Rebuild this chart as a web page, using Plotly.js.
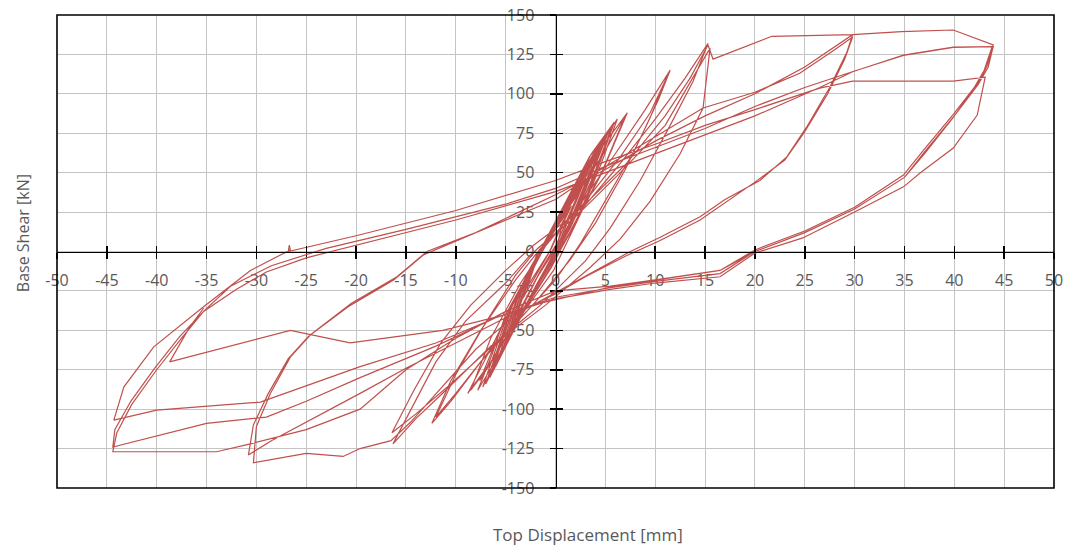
<!DOCTYPE html>
<html>
<head>
<meta charset="utf-8">
<script src="https://cdn.plot.ly/plotly-3.0.1.min.js"></script>
<style>
  html, body { margin: 0; padding: 0; background: #ffffff; }
  #chart { width: 1069px; height: 552px; }
</style>
</head>
<body>
<div id="chart"></div>
<script>
// Cyclic test record: top displacement [mm] vs. base shear [kN]

// small pre-yield cycles
const elasticDisp  = [0, 0.8, -0.6, -2.8, -1.7, 1.4, -0.4, -3.3, -1.8, 1.6, -0.5, -3.4, -1.9, 2.3, 0.2, -1.5, -3.9, -2.2, 0.0, 2.9, 0.5, -1.8, -4.4, -2.5, -0.3, 3.0, 0.4, -2.0, -4.5, -2.6, 0.2, 3.6, 1.0, -2.0, -4.9, -2.8, 0.3, 4.2, 1.4, -2.2, -5.4, -3.2, 0.4, 4.3, 1.2, -2.4, -5.5, -3.4, 0.6, 4.8, 1.6, -2.6, -6.0, -3.8, 0.6, 5.3, 1.8, -2.8, -6.6, -4.0, 0.8, 5.2, 1.7, -3.0, -6.5, -4.1];
const elasticShear = [0, 20, 0, -22, -2, 28, 2, -30, -3, 29, 1, -31, -2, 37, 6, -12, -41, -8, 14, 45, 8, -16, -49, -14, 12, 46, 6, -18, -50, -13, 18, 53, 12, -22, -57, -18, 20, 61, 18, -25, -65, -22, 22, 62, 14, -28, -66, -25, 24, 69, 18, -30, -73, -30, 25, 76, 20, -33, -80, -32, 28, 74, 18, -34, -78, -30];

// 5-6 mm cycles
const cyc6Disp  = [0.9, 3.4, 5.6, 3.8, 2.0, -0.6, -3.2, -5.3, -7.0, -5.6, -4.4, -1.8, 1.0, 3.6, 5.9, 4.2, 2.4, -0.4, -3.4, -5.6, -7.3, -6.0, -4.6, -2.0, 0.8, 3.8, 6.2, 4.6, 2.6, -0.2, -3.6, -5.9, -7.8, -6.4, -5.0, -2.2, 0.6, 3.2, 5.5, 3.9, 2.2, -0.5, -3.0, -5.0, -6.8, -5.4, -4.2];
const cyc6Shear = [30, 60, 78, 48, 22, -8, -36, -62, -84, -58, -34, -4, 30, 62, 82, 52, 24, -10, -40, -66, -86, -62, -36, -6, 28, 62, 84, 56, 25, -12, -42, -68, -88, -66, -40, -8, 26, 56, 77, 47, 20, -10, -36, -60, -80, -56, -32];

// 7.5 mm cycles
const cyc8Disp  = [0.5, 3.5, 5.8, 4.0, 1.5, -2.5, -5.5, -7.6, -5.2, -2.5, 1.0, 4.5, 7.2, 5.0, 2.0, -2.8, -6.5, -8.8, -6.0, -3.0, 1.0, 4.8, 7.0, 4.5, 1.5, -3.0, -6.6, -8.5];
const cyc8Shear = [25, 58, 80, 50, 15, -30, -60, -82, -45, -10, 28, 65, 88, 55, 18, -32, -70, -90, -55, -18, 25, 62, 86, 48, 12, -34, -72, -88];

// 12 mm cycles
const cyc12Disp  = [-6.5, -3.5, -1.2, 2.5, 6.0, 9.0, 11.5, 10.3, 8.0, 5.0, 2.5, 0.0, -3.5, -7.5, -10.5, -12.4, -10.5, -7.5, -4.0, -1.5, 2.5, 6.5, 9.5, 11.2, 9.5, 7.0, 4.0, 1.5, -2.0, -6.5, -10.0, -12.0];
const cyc12Shear = [-55, -20, 2, 30, 62, 90, 115, 96, 65, 32, 5, -18, -42, -70, -95, -109, -82, -50, -18, 2, 28, 60, 88, 111, 85, 52, 18, -5, -32, -62, -90, -105];

// 15 mm cycles
const cyc15Disp  = [-10.0, -7.0, -4.0, -1.8, 2.0, 6.0, 10.0, 13.0, 15.3, 13.8, 11.5, 8.5, 5.5, 3.0, -1.5, -6.5, -11.0, -14.0, -16.3,
                    -14.5, -12.0, -9.0, -5.0, -2.5, 2.0, 6.5, 11.0, 15.5, 14.8, 12.5, 9.5, 6.5, 3.5, -1.0, -6.0, -10.5, -14.0, -16.4];
const cyc15Shear = [-78, -45, -15, 2, 22, 52, 84, 110, 132, 108, 80, 45, 15, -6, -34, -60, -88, -106, -122,
                    -100, -70, -44, -20, -2, 22, 50, 80, 129, 91, 62, 32, 8, -10, -34, -58, -84, -103, -115];

// 30 mm cycles
const cyc30Disp  = [-14.2, -11.5, -8.5, -5.0, -2.2, 2.0, 7.0, 11.0, 13.5, 15.3, 15.8, 21.7, 29.8,
                    29.2, 27.5, 25.2, 23.2, 20.5, 17.0, 14.5, 10.5, 7.5, 3.5, 0.0, -4.0, -8.0, -12.0, -14.5, -16.5, -19.6, -21.3, -25.0, -30.3,
                    -30.0, -28.6, -26.6, -24.6, -20.5, -15.9, -12.9, -8.0, -3.0, 0.0, 4.0, 9.8, 14.8, 20.0, 24.5, 28.0, 29.8,
                    29.0, 27.3, 25.0, 23.0, 20.0, 17.0, 14.5, 10.5, 7.0, 3.0, 0.0, -5.0, -10.0, -15.0, -19.6, -25.0, -28.5, -30.8];
const cyc30Shear = [-88, -58, -34, -12, 4, 24, 55, 86, 110, 131, 122, 136.5, 137.5,
                    126, 104, 79, 60, 45, 33, 22, 9, 0, -14, -26, -40, -62, -90, -108, -120, -125, -130, -128, -134,
                    -111, -90, -67, -53, -33, -16, 0, 12, 25, 33, 50, 72, 91, 101, 113, 128, 136,
                    122, 100, 76, 58, 44, 31, 20, 7, -3, -16, -27, -42, -58, -74, -90, -108, -120, -129];

// 44 mm cycles
const cyc44Disp  = [-30.3, -28.8, -26.8, -24.8, -20.8, -16.2, -13.2, -8.0, -3.0, 0.0, 5.0, 10.0, 15.0, 20.0, 25.0, 29.8, 34.7, 39.9, 43.9,
                    43.3, 42.5, 39.9, 37.0, 34.9, 30.0, 25.0, 20.0, 16.5, 10.0, 5.5, 0.0, -5.0, -10.0, -15.0, -19.6, -25.0, -30.6, -34.0, -44.4,
                    -44.0, -42.5, -40.0, -37.5, -35.3, -32.0, -29.0, -25.0, -20.0, -10.0, 0.0, 5.0, 10.0, 15.0, 20.0, 26.5, 29.8, 34.9, 39.9, 43.9,
                    43.4, 42.4, 40.0, 37.0, 35.0, 30.0, 25.0, 20.0, 16.5, 10.0, 5.5, 0.0, -6.0, -12.0, -19.6, -25.0, -29.0, -35.0, -44.4,
                    -44.2, -42.6, -40.2, -37.7, -35.3, -32.6, -28.5, -23.0, -15.0, -5.0, 0.0, 5.0, 10.0, 15.0, 20.0, 25.0, 30.0, 34.9, 39.9, 43.8,
                    43.0, 42.0, 39.9, 37.0, 35.0, 30.0, 25.0, 20.0, 16.5, 5.5, -1.6, -6.0, -12.0, -19.6, -29.6, -40.0, -44.3,
                    -43.3, -40.3, -35.3, -30.6, -26.6, -26.7, -26.8, -20.0, -10.0, 0.0, 5.0, 10.0, 15.0, 20.0, 26.5, 29.8, 39.9, 43.1,
                    42.3, 39.9, 36.6, 34.9, 30.0, 24.8, 20.0, 16.5, 10.0, 5.5, 0.0, -5.0, -11.3, -20.6, -26.6, -38.7, -36.7, -35.3];
const cyc44Shear = [-110, -90, -68, -54, -35, -18, -2, 12, 27, 36, 52, 70, 86, 100, 117, 137.5, 139.5, 140.5, 131,
                    118, 108, 87, 65, 48.5, 28, 13, 1, -12, -18, -22, -25, -38, -55, -75, -100, -113, -122, -127, -127,
                    -115, -97, -75, -55, -38, -24, -13, -4, 4, 20, 38, 50, 62, 74, 86, 104, 114, 124.6, 129.7, 130,
                    117, 106, 86, 63, 47, 27, 12, 0, -14, -19, -23, -29, -42, -60, -80, -95, -105, -109, -124,
                    -113, -95, -74, -54, -38, -22, -9, 2, 14, 30, 40, 54, 66, 78, 92, 104, 114.5, 124.3, 129.5, 130,
                    115, 104, 85, 62, 47, 27, 12, 0, -12, -22.5, -33, -42, -58, -73, -95.5, -100.6, -107,
                    -86, -60.5, -35, -12, 1, 4, 0, 10, 26, 45, 57, 68, 80, 90, 103.6, 108, 108, 110.6,
                    86.5, 65.6, 50, 41, 25, 8.6, -1, -16, -20, -24, -30, -40, -50, -58, -50, -70, -48, -36];

// axis ticks
const xTickVals = [-50, -45, -40, -35, -30, -25, -20, -15, -10, -5, 0, 5, 10, 15, 20, 25, 30, 35, 40, 45, 50];
const xTickText = ['-50', '-45', '-40', '-35', '-30', '-25', '-20', '-15', '-10', '-5', '0', '5', '10', '15', '20', '25', '30', '35', '40', '45', '50'];
const yTickVals = [-150, -125, -100, -75, -50, -25, 0, 25, 50, 75, 100, 125, 150];
const yTickText = ['-150', '-125', '-100', '-75', '-50', '-25', '0', '25', '50', '75', '100', '125', '150'];

const dispAll  = [].concat(elasticDisp, cyc6Disp, cyc8Disp, cyc12Disp, cyc15Disp, cyc30Disp, cyc44Disp);
const shearAll = [].concat(elasticShear, cyc6Shear, cyc8Shear, cyc12Shear, cyc15Shear, cyc30Shear, cyc44Shear);

const labelFont = { family: 'Open Sans, Noto Sans, sans-serif', size: 16, color: '#595959' };

const traces = [
  {
    x: dispAll, y: shearAll, type: 'scatter', mode: 'lines',
    line: { color: '#C0504D', width: 1.2 },
    hoverinfo: 'x+y'
  },
  // empty trace so the crossing tick axes are drawn
  { x: [], y: [], xaxis: 'x2', yaxis: 'y2', type: 'scatter', mode: 'lines', showlegend: false }
];

const layout = {
  width: 1069, height: 552,
  margin: { l: 57, r: 15, t: 15, b: 64 },
  paper_bgcolor: '#ffffff', plot_bgcolor: '#ffffff',
  showlegend: false,
  xaxis: {
    range: [-50, 50], tickmode: 'array', tickvals: xTickVals, ticktext: xTickText,
    showgrid: true, gridcolor: '#c4c4c4', gridwidth: 1, zeroline: false, showline: false,
    ticks: 'outside', ticklen: 6, tickwidth: 1.5, tickcolor: '#000000',
    anchor: 'free', position: 0.5, side: 'bottom',
    tickfont: labelFont, ticklabelstandoff: 8, layer: 'below traces', fixedrange: true
  },
  xaxis2: {
    range: [-50, 50], overlaying: 'x', tickmode: 'array', tickvals: xTickVals,
    showticklabels: false, showgrid: false, zeroline: false,
    showline: true, linecolor: '#000000', linewidth: 1.5,
    ticks: 'inside', ticklen: 6, tickwidth: 1.5, tickcolor: '#000000',
    anchor: 'free', position: 0.5, side: 'bottom', fixedrange: true
  },
  yaxis: {
    range: [-150, 150], tickmode: 'array', tickvals: yTickVals, ticktext: yTickText,
    showgrid: true, gridcolor: '#c4c4c4', gridwidth: 1, zeroline: false, showline: false,
    ticks: 'outside', ticklen: 6, tickwidth: 1.5, tickcolor: '#000000',
    anchor: 'free', position: 0.5, side: 'left',
    tickfont: labelFont, ticklabelstandoff: 12, layer: 'below traces', fixedrange: true
  },
  yaxis2: {
    range: [-150, 150], overlaying: 'y', tickmode: 'array', tickvals: yTickVals,
    showticklabels: false, showgrid: false, zeroline: false,
    showline: true, linecolor: '#000000', linewidth: 1.5,
    ticks: 'inside', ticklen: 6, tickwidth: 1.5, tickcolor: '#000000',
    anchor: 'free', position: 0.5, side: 'left', fixedrange: true
  },
  shapes: [
    { type: 'rect', xref: 'paper', yref: 'paper', x0: 0, x1: 1, y0: 0, y1: 1,
      line: { color: '#000000', width: 1.6 }, layer: 'above' }
  ],
  annotations: [
    { text: 'Top Displacement [mm]', xref: 'paper', yref: 'paper', x: 0.533, y: -0.099,
      showarrow: false, xanchor: 'center', yanchor: 'middle',
      font: { family: 'Open Sans, Noto Sans, sans-serif', size: 17, color: '#595959' } },
    { text: 'Base Shear [kN]', xref: 'paper', yref: 'paper', x: -0.034, y: 0.539,
      showarrow: false, xanchor: 'center', yanchor: 'middle', textangle: -90,
      font: { family: 'Open Sans, Noto Sans, sans-serif', size: 16, color: '#595959' } }
  ]
};

Plotly.newPlot('chart', traces, layout, { displayModeBar: false, staticPlot: true });
</script>
</body>
</html>
